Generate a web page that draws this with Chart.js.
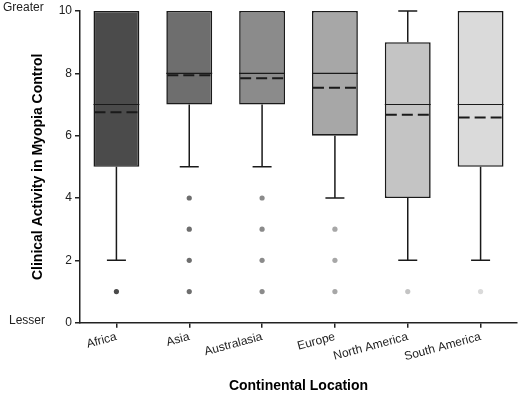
<!DOCTYPE html>
<html>
<head>
<meta charset="utf-8">
<script src="https://cdn.jsdelivr.net/npm/chart.js@4/dist/chart.umd.min.js"></script>
<style>
html,body{margin:0;padding:0;background:#fff;}
#wrap{width:520px;height:394px;}
</style>
</head>
<body>
<div id="wrap"><canvas id="c" width="520" height="394"></canvas></div>
<script>
const categories = ['Africa','Asia','Australasia','Europe','North America','South America'];
const whiskerLow = [2, 5, 5, 4, 2, 2];
const q1 = [5, 7, 7, 6, 4, 5];
const medians = [7, 8, 8, 8, 7, 7];
const q3 = [10, 10, 10, 10, 9, 10];
const whiskerHigh = [10, 10, 10, 10, 10, 10];
const means = [6.75, 7.94, 7.84, 7.54, 6.67, 6.58];
const outliers = [[1], [1,2,3,4], [1,2,3,4], [1,2,3], [1], [1]];
const boxColors = ['#4b4b4b','#6e6e6e','#8b8b8b','#a7a7a7','#c4c4c4','#dadada'];
const yTicks = [0, 2, 4, 6, 8, 10];

const outlierPoints = [];
const outlierColors = [];
categories.forEach((c, i) => {
  outliers[i].forEach(v => { outlierPoints.push({x: c, y: v}); outlierColors.push(boxColors[i]); });
});

const boxPlugin = {
  id: 'boxParts',
  beforeDatasetsDraw(chart) {
    const ctx = chart.ctx, xs = chart.scales.x, ys = chart.scales.y;
    ctx.save();
    ctx.strokeStyle = '#1a1a1a';
    ctx.lineWidth = 1.5;
    const capHalf = 9.5;
    categories.forEach((c, i) => {
      const x = xs.getPixelForValue(i);
      const yl = ys.getPixelForValue(whiskerLow[i]);
      const yq1 = ys.getPixelForValue(q1[i]);
      const yq3 = ys.getPixelForValue(q3[i]);
      const yh = ys.getPixelForValue(whiskerHigh[i]);
      ctx.beginPath();
      if (whiskerLow[i] < q1[i]) {
        ctx.moveTo(x, yq1); ctx.lineTo(x, yl);
        ctx.moveTo(x - capHalf, yl); ctx.lineTo(x + capHalf, yl);
      }
      if (whiskerHigh[i] > q3[i]) {
        ctx.moveTo(x, yq3); ctx.lineTo(x, yh);
        ctx.moveTo(x - capHalf, yh); ctx.lineTo(x + capHalf, yh);
      }
      ctx.stroke();
    });
    ctx.restore();
  },
  afterDatasetsDraw(chart) {
    const ctx = chart.ctx, xs = chart.scales.x, ys = chart.scales.y;
    const meta = chart.getDatasetMeta(0);
    ctx.save();
    categories.forEach((c, i) => {
      const bar = meta.data[i];
      const half = bar.width / 2;
      const x = xs.getPixelForValue(i);
      const ym = ys.getPixelForValue(medians[i]);
      ctx.strokeStyle = '#1a1a1a';
      ctx.lineWidth = 1.2;
      ctx.setLineDash([]);
      ctx.beginPath(); ctx.moveTo(x - half, ym); ctx.lineTo(x + half, ym); ctx.stroke();
      const ymean = ys.getPixelForValue(means[i]);
      ctx.lineWidth = 2;
      ctx.setLineDash([11, 5]);
      ctx.beginPath(); ctx.moveTo(x - half + 1, ymean); ctx.lineTo(x + half - 1, ymean); ctx.stroke();
    });
    ctx.restore();
    // Greater / Lesser labels
    ctx.save();
    ctx.fillStyle = '#222';
    ctx.font = '12px "Liberation Sans", Arial, sans-serif';
    ctx.textAlign = 'left';
    ctx.textBaseline = 'middle';
    ctx.fillText('Greater', 3, ys.getPixelForValue(10) - 3);
    ctx.fillText('Lesser', 9, ys.getPixelForValue(0) - 2);
    ctx.restore();
  }
};

new Chart(document.getElementById('c'), {
  type: 'bar',
  data: {
    labels: categories,
    datasets: [
      {
        type: 'bar',
        data: categories.map((c, i) => [q1[i], q3[i]]),
        backgroundColor: boxColors,
        borderColor: '#1a1a1a',
        borderWidth: 1.6,
        borderSkipped: false,
        categoryPercentage: 1,
        barPercentage: 0.63,
        order: 2
      },
      {
        type: 'line',
        data: outlierPoints,
        showLine: false,
        pointRadius: 2.6,
        pointHoverRadius: 2.6,
        pointBorderWidth: 0,
        pointBackgroundColor: outlierColors,
        pointBorderColor: outlierColors,
        order: 1
      }
    ]
  },
  options: {
    responsive: false,
    animation: false,
    events: [],
    layout: { padding: { top: 11, right: 3, left: 0, bottom: 0 } },
    plugins: { legend: { display: false }, tooltip: { enabled: false } },
    scales: {
      x: {
        type: 'category',
        offset: true,
        grid: { display: true, drawOnChartArea: false, drawTicks: true, tickLength: 5, offset: false, color: '#222', lineWidth: 1.5 },
        border: { display: true, color: '#222', width: 1.5 },
        ticks: {
          minRotation: 15, maxRotation: 15, padding: 2,
          color: '#222',
          font: { family: '"Liberation Sans", Arial, sans-serif', size: 12 }
        },
        title: {
          display: true, text: 'Continental Location', color: '#000',
          font: { family: '"Liberation Sans", Arial, sans-serif', size: 14, weight: 'bold' },
          padding: { top: 0, bottom: -1 }
        },
        afterFit(scale) { scale.height = 71.3; }
      },
      y: {
        min: 0, max: 10,
        afterBuildTicks(scale) { scale.ticks = yTicks.map(v => ({ value: v })); },
        grid: { display: true, drawOnChartArea: false, drawTicks: true, tickLength: 5, color: '#222', lineWidth: 1.5 },
        border: { display: true, color: '#222', width: 1.5 },
        ticks: {
          padding: 3, color: '#222',
          font: { family: '"Liberation Sans", Arial, sans-serif', size: 12 }
        },
        title: {
          display: true, text: 'Clinical Activity in Myopia Control', color: '#000',
          font: { family: '"Liberation Sans", Arial, sans-serif', size: 14, weight: 'bold' },
          padding: { top: 30, bottom: 0 }
        },
        afterFit(scale) { scale.width = 80; }
      }
    }
  },
  plugins: [boxPlugin]
});
</script>
</body>
</html>
